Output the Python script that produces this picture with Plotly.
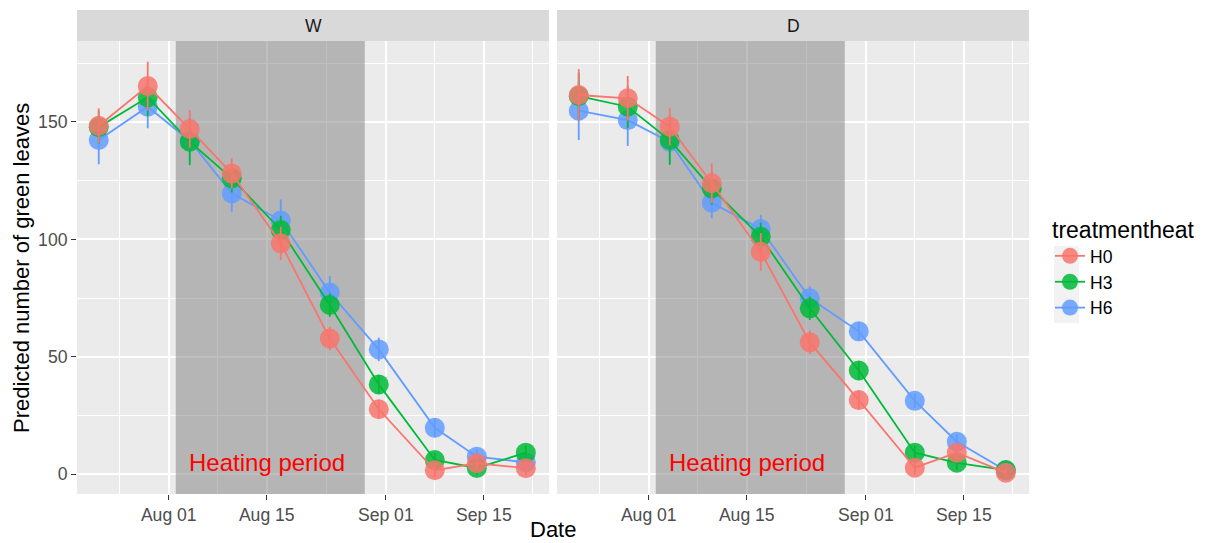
import plotly.graph_objects as go

# ---------------- data ----------------
dates = ["2021-07-22", "2021-07-29", "2021-08-04", "2021-08-10", "2021-08-17",
         "2021-08-24", "2021-08-31", "2021-09-08", "2021-09-14", "2021-09-21"]

treatments = ["H0", "H3", "H6"]
panels = ["W", "D"]

# predicted number of green leaves (panel W)
w_h0 = [148.4, 165.3, 147.0, 128.1, 98.3, 57.7, 27.6, 1.6, 4.6, 2.5]
w_h3 = [147.8, 160.5, 141.6, 126.0, 104.0, 72.0, 38.2, 6.0, 2.6, 9.1]
w_h6 = [142.3, 156.5, 142.0, 119.6, 108.0, 77.3, 53.1, 19.7, 7.4, 5.0]
# error half-widths (panel W)
w_h0_err = [7.4, 10.4, 8.0, 6.4, 7.1, 5.0, 4.0, 3.0, 3.0, 3.0]
w_h3_err = [7.0, 8.0, 10.0, 6.0, 6.0, 5.0, 4.0, 3.0, 3.0, 3.0]
w_h6_err = [10.3, 9.2, 9.0, 7.8, 9.0, 7.0, 5.0, 4.0, 3.0, 3.0]

# predicted number of green leaves (panel D)
d_h0 = [161.5, 160.1, 148.0, 123.9, 94.7, 56.1, 31.5, 2.7, 9.1, 0.6]
d_h3 = [161.0, 156.5, 142.3, 121.7, 101.1, 70.6, 44.1, 9.1, 4.8, 1.7]
d_h6 = [154.8, 150.8, 141.5, 115.6, 104.4, 74.9, 60.8, 31.2, 13.8, 1.5]
# error half-widths (panel D)
d_h0_err = [11.0, 9.5, 8.0, 8.5, 8.0, 5.0, 4.0, 3.0, 3.0, 2.0]
d_h3_err = [10.0, 9.0, 10.6, 7.0, 6.0, 5.0, 4.0, 3.0, 3.0, 2.0]
d_h6_err = [12.5, 11.0, 9.0, 6.6, 6.0, 5.0, 4.0, 3.0, 3.0, 2.0]

heat_start = "2021-08-02"
heat_end = "2021-08-29"
heat_label = "Heating period"
heat_label_x = "2021-08-15"
heat_label_y = 5

x_tickvals = ["2021-08-01", "2021-08-15", "2021-09-01", "2021-09-15"]
x_minorvals = ["2021-07-25", "2021-08-08", "2021-08-23 12:00", "2021-09-08", "2021-09-22"]
y_tickvals = [0, 50, 100, 150]
y_minorvals = [25, 75, 125, 175]

x_range = ["2021-07-18 21:30", "2021-09-24 07:30"]
y_range = [-8.5, 184.5]

colors = {"H0": "#F8766D", "H3": "#00BA38", "H6": "#619CFF"}

series = {
    "W": {"H0": (w_h0, w_h0_err), "H3": (w_h3, w_h3_err), "H6": (w_h6, w_h6_err)},
    "D": {"H0": (d_h0, d_h0_err), "H3": (d_h3, d_h3_err), "H6": (d_h6, d_h6_err)},
}

FONT = "Liberation Sans, Arial, Helvetica, sans-serif"
W, H = 1207, 543

# geometry (pixels)
panel_x = {"W": (77, 549), "D": (557, 1029)}
panel_top, panel_bottom = 41, 494
strip_top = 10

fig = go.Figure()

axis_ids = {"W": ("x", "y"), "D": ("x2", "y2")}

for p in panels:
    xa, ya = axis_ids[p]
    # heating period band (semi-transparent, above grid, below points)
    fig.add_trace(go.Scatter(
        x=[heat_start, heat_end, heat_end, heat_start, heat_start],
        y=[y_range[0], y_range[0], y_range[1], y_range[1], y_range[0]],
        xaxis=xa, yaxis=ya, mode="lines", fill="toself",
        fillcolor="rgba(127,127,127,0.5)", line=dict(width=0),
        showlegend=False, hoverinfo="skip",
    ))
    # draw H6, H3 first, H0 last (on top)
    for t in ["H6", "H3", "H0"]:
        vals, errs = series[p][t]
        fig.add_trace(go.Scatter(
            x=dates, y=vals, xaxis=xa, yaxis=ya,
            mode="lines+markers", name=t,
            legendgroup=t, showlegend=(p == "W"),
            legendrank={"H0": 1, "H3": 2, "H6": 3}[t],
            line=dict(color=colors[t], width=1.8),
            marker=dict(color=colors[t], size=20, opacity=0.85, line=dict(width=0)),
            error_y=dict(type="data", array=errs, visible=True, width=0,
                         thickness=1.8, color=colors[t]),
            hoverinfo="x+y+name",
        ))

def px2fx(px):
    return px / W

def py2fy(py):
    return 1 - py / H

shapes = []
annotations = []
for p in panels:
    xa, ya = axis_ids[p]
    x0, x1 = panel_x[p]
    # strip
    shapes.append(dict(type="rect", xref="paper", yref="paper",
                       x0=px2fx(x0), x1=px2fx(x1), y0=py2fy(panel_top), y1=py2fy(strip_top),
                       fillcolor="#D9D9D9", line=dict(width=0), layer="below"))
    annotations.append(dict(text=p, xref="paper", yref="paper",
                            x=px2fx((x0 + x1) / 2), y=py2fy((panel_top + strip_top) / 2),
                            xanchor="center", yanchor="middle", showarrow=False,
                            font=dict(family=FONT, size=17.6, color="#1A1A1A")))
    annotations.append(dict(text=heat_label, xref=xa, yref=ya, x=heat_label_x, y=heat_label_y,
                            xanchor="center", yanchor="middle", showarrow=False,
                            font=dict(family=FONT, size=24, color="#FF0000")))

# axis titles
annotations.append(dict(text="Date", xref="paper", yref="paper",
                        x=px2fx(553), y=py2fy(529), xanchor="center", yanchor="middle",
                        showarrow=False, font=dict(family=FONT, size=22, color="#000000")))
annotations.append(dict(text="Predicted number of green leaves", xref="paper", yref="paper",
                        x=px2fx(21), y=py2fy(268), xanchor="center", yanchor="middle",
                        textangle=-90, showarrow=False,
                        font=dict(family=FONT, size=22, color="#000000")))

# legend key background
shapes.append(dict(type="rect", xref="paper", yref="paper",
                   x0=px2fx(1054), x1=px2fx(1079), y0=py2fy(323), y1=py2fy(246),
                   fillcolor="#F2F2F2", line=dict(width=0), layer="below"))

common_x = dict(
    type="date", range=x_range, tickmode="array", tickvals=x_tickvals, tickformat="%b %d",
    showgrid=True, gridcolor="#FFFFFF", gridwidth=2, zeroline=False,
    ticks="outside", ticklen=5, tickwidth=1.2, tickcolor="#333333",
    tickfont=dict(family=FONT, size=17.6, color="#4D4D4D"),
    minor=dict(tickmode="array", tickvals=x_minorvals, showgrid=True,
               gridcolor="#FFFFFF", gridwidth=1, ticks=""),
    showline=False, fixedrange=True,
)
common_y = dict(
    range=y_range, tickmode="array", tickvals=y_tickvals,
    showgrid=True, gridcolor="#FFFFFF", gridwidth=2, zeroline=False,
    minor=dict(tickmode="array", tickvals=y_minorvals, showgrid=True,
               gridcolor="#FFFFFF", gridwidth=1, ticks=""),
    showline=False, fixedrange=True,
)

fig.update_layout(
    width=W, height=H,
    margin=dict(l=0, r=0, t=0, b=0),
    paper_bgcolor="#FFFFFF", plot_bgcolor="#EBEBEB",
    font=dict(family=FONT, color="#000000"),
    showlegend=True,
    legend=dict(
        title=dict(text="treatmentheat", font=dict(family=FONT, size=23, color="#000000")),
        font=dict(family=FONT, size=17.6, color="#000000"),
        x=px2fx(1050), y=py2fy(208), xanchor="left", yanchor="top",
        bgcolor="rgba(0,0,0,0)", tracegroupgap=0, itemsizing="trace",
    ),
    xaxis=dict(domain=[px2fx(77), px2fx(549)], anchor="y", **common_x),
    xaxis2=dict(domain=[px2fx(557), px2fx(1029)], anchor="y2", **common_x),
    yaxis=dict(domain=[py2fy(panel_bottom), py2fy(panel_top)], anchor="x",
               ticks="outside", ticklen=5, tickwidth=1.2, tickcolor="#333333",
               tickfont=dict(family=FONT, size=17.6, color="#4D4D4D"), **common_y),
    yaxis2=dict(domain=[py2fy(panel_bottom), py2fy(panel_top)], anchor="x2",
                matches="y", showticklabels=False, ticks="", **common_y),
    shapes=shapes, annotations=annotations,
    hovermode="closest",
)

fig.write_html("out.html", include_plotlyjs=True, config={"displayModeBar": False},
               post_script="document.body.style.margin='0';document.body.style.overflow='hidden';")
